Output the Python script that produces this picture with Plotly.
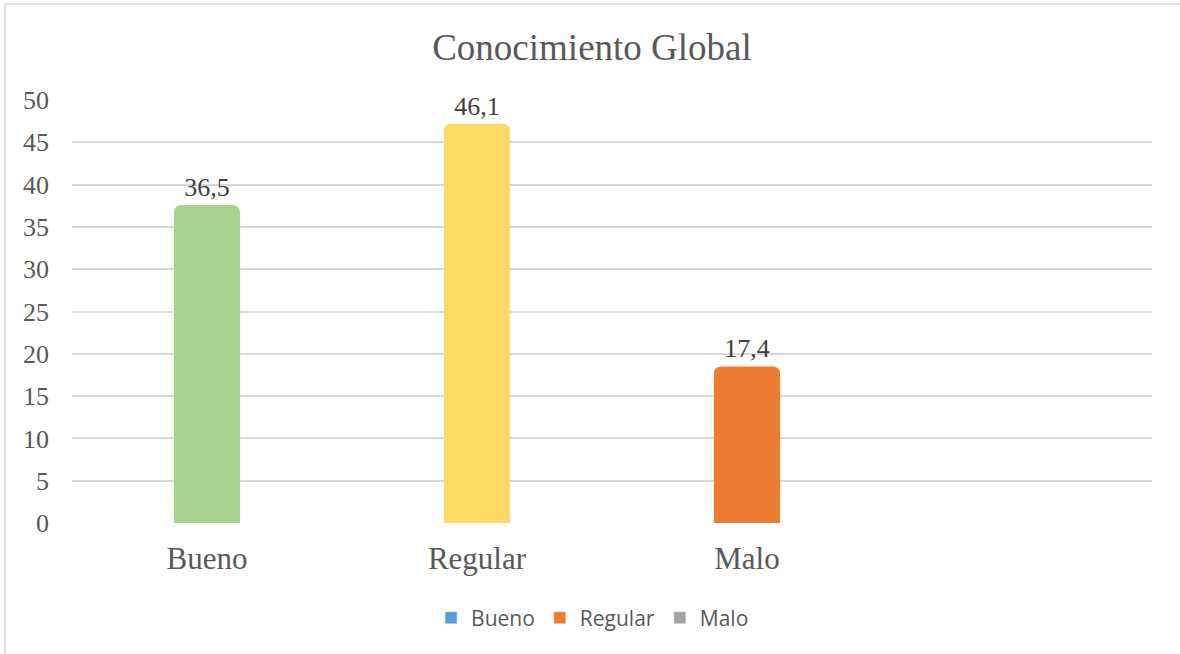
import plotly.graph_objects as go

categories = ["Bueno", "Regular", "Malo"]
bar_heights = [37.6, 47.2, 18.5]
label_texts = ["36,5", "46,1", "17,4"]
bar_colors = ["#A9D18E", "#FFD966", "#ED7D31"]
legend_names = ["Bueno", "Regular", "Malo"]
legend_colors = ["#5B9BD5", "#ED7D31", "#A5A5A5"]
y_ticks = [0, 5, 10, 15, 20, 25, 30, 35, 40, 45, 50]

SERIF = "Liberation Serif, Times New Roman, serif"

fig = go.Figure()
fig.add_trace(go.Bar(
    x=categories, y=bar_heights, text=label_texts,
    textposition="outside", cliponaxis=False,
    textfont=dict(family=SERIF, size=26, color="#404040"),
    marker=dict(color=bar_colors, cornerradius=7, line=dict(width=0)),
    width=0.245, showlegend=False, hoverinfo="skip",
))
for n, c in zip(legend_names, legend_colors):
    fig.add_trace(go.Bar(x=[None], y=[None], name=n, marker_color=c, showlegend=True))

fig.update_layout(
    width=1180, height=654,
    margin=dict(l=72, r=28, t=100, b=131),
    paper_bgcolor="white", plot_bgcolor="white",
    barmode="overlay",
    font=dict(family=SERIF),
    title=dict(text="Conocimiento Global", x=0.5017, y=0.928, xanchor="center", yanchor="middle",
               font=dict(family=SERIF, size=37, color="#595959")),
    xaxis=dict(type="category", categoryarray=categories, range=[-0.5, 3.5],
               showgrid=False, showline=False, zeroline=False, ticks="",
               tickfont=dict(family=SERIF, size=31, color="#595959"),
               ticklabelstandoff=14),
    yaxis=dict(range=[0, 50], tickvals=y_ticks, showgrid=True, gridcolor="#D9D9D9", gridwidth=1.5,
               zeroline=False, showline=False, ticks="",
               tickfont=dict(family=SERIF, size=26, color="#595959"),
               ticklabelstandoff=22),
    legend=dict(orientation="h", x=0.482, xanchor="center", y=-0.225, yanchor="middle",
                font=dict(family="Open Sans, sans-serif", size=21, color="#595959"),
                itemwidth=30, tracegroupgap=0),
    shapes=[dict(type="rect", xref="paper", yref="paper",
                 x0=(5 - 72) / 1080, x1=(1200 - 72) / 1080,
                 y0=(523 - 670) / 423, y1=(523 - 4) / 423,
                 line=dict(color="#D9D9D9", width=1.5), layer="below")],
)

fig.write_html("out.html")
